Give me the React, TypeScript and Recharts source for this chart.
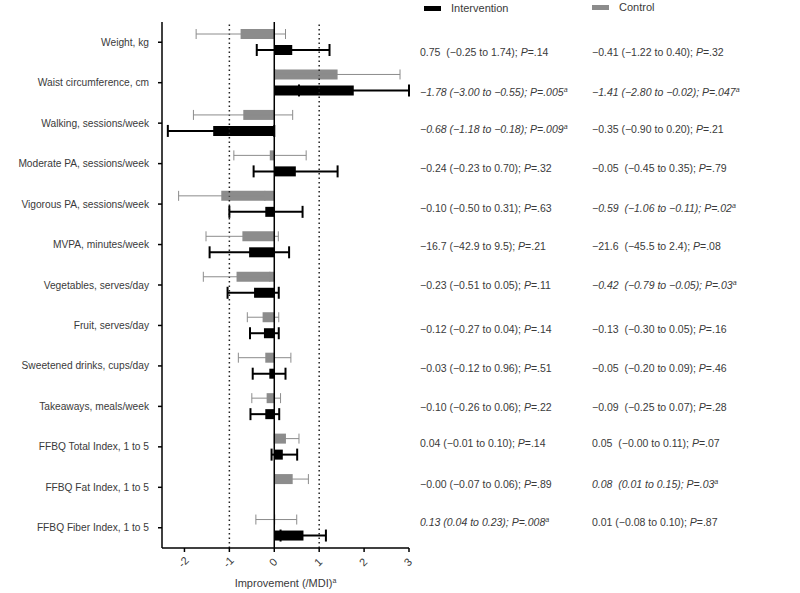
import {
  BarChart,
  Bar,
  XAxis,
  YAxis,
  ErrorBar,
  ReferenceLine,
} from "recharts";

const categories = [
  "Weight, kg",
  "Waist circumference, cm",
  "Walking, sessions/week",
  "Moderate PA, sessions/week",
  "Vigorous PA, sessions/week",
  "MVPA, minutes/week",
  "Vegetables, serves/day",
  "Fruit, serves/day",
  "Sweetened drinks, cups/day",
  "Takeaways, meals/week",
  "FFBQ Total Index, 1 to 5",
  "FFBQ Fat Index, 1 to 5",
  "FFBQ Fiber Index, 1 to 5",
];

// grey bars
const controlValues = [-0.75, 1.41, -0.69, -0.1, -1.18, -0.71, -0.84, -0.26, -0.2, -0.17, 0.26, 0.41, 0.02];
const controlLow = [-1.74, 0.02, -1.8, -0.9, -2.13, -1.52, -1.58, -0.6, -0.8, -0.5, 0.0, 0.02, -0.41];
const controlHigh = [0.25, 2.8, 0.41, 0.71, -0.21, 0.09, -0.1, 0.1, 0.37, 0.14, 0.55, 0.76, 0.5];

// black bars
const interventionValues = [0.4, 1.77, -1.36, 0.48, -0.2, -0.56, -0.45, -0.23, -0.11, -0.2, 0.19, 0.0, 0.65];
const interventionLow = [-0.39, 0.55, -2.37, -0.46, -1.0, -1.44, -1.04, -0.54, -0.48, -0.53, -0.06, -0.35, 0.14];
const interventionHigh = [1.23, 3.0, 0.0, 1.41, 0.63, 0.33, 0.1, 0.1, 0.25, 0.11, 0.51, 0.32, 1.15];

const xTicks = [-2, -1, 0, 1, 2, 3];

const interventionEst = [
  "0.75  (−0.25 to 1.74); ",
  "−1.78 (−3.00 to −0.55); ",
  "−0.68 (−1.18 to −0.18); ",
  "−0.24 (−0.23 to 0.70); ",
  "−0.10 (−0.50 to 0.31); ",
  "−16.7 (−42.9 to 9.5); ",
  "−0.23 (−0.51 to 0.05); ",
  "−0.12 (−0.27 to 0.04); ",
  "−0.03 (−0.12 to 0.96); ",
  "−0.10 (−0.26 to 0.06); ",
  "0.04 (−0.01 to 0.10); ",
  "−0.00 (−0.07 to 0.06); ",
  "0.13 (0.04 to 0.23); ",
];
const interventionP = ["=.14", "=.005", "=.009", "=.32", "=.63", "=.21", "=.11", "=.14", "=.51", "=.22", "=.14", "=.89", "=.008"];
const interventionSig = [false, true, true, false, false, false, false, false, false, false, false, false, true];

const controlEst = [
  "−0.41 (−1.22 to 0.40); ",
  "−1.41 (−2.80 to −0.02); ",
  "−0.35 (−0.90 to 0.20); ",
  "−0.05  (−0.45 to 0.35); ",
  "−0.59  (−1.06 to −0.11); ",
  "−21.6  (−45.5 to 2.4); ",
  "−0.42  (−0.79 to −0.05); ",
  "−0.13  (−0.30 to 0.05); ",
  "−0.05  (−0.20 to 0.09); ",
  "−0.09  (−0.25 to 0.07); ",
  "0.05  (−0.00 to 0.11); ",
  "0.08  (0.01 to 0.15); ",
  "0.01 (−0.08 to 0.10); ",
];
const controlP = ["=.32", "=.047", "=.21", "=.79", "=.02", "=.08", "=.03", "=.16", "=.46", "=.28", "=.07", "=.03", "=.87"];
const controlSig = [false, true, false, false, true, false, true, false, false, false, false, true, false];

const seriesNames = ["Intervention", "Control"];

// small vertical nudges of the stat text relative to each row's tick
const rowShift = [10, 10, 6, 5, 4, 2, 0, 4, 2, 1, -4, -3, -5];

const FONT = "'Liberation Sans', Arial, sans-serif";
const TEXT = "#3a3a3a";
const GREY = "#8c8c8c";

const data = categories.map((name, i) => ({
  name,
  control: controlValues[i],
  controlErr: [controlValues[i] - controlLow[i], controlHigh[i] - controlValues[i]],
  intervention: interventionValues[i],
  interventionErr: [interventionValues[i] - interventionLow[i], interventionHigh[i] - interventionValues[i]],
}));

function StatText({ x, y, est, p, sig }: any) {
  return (
    <text x={x} y={y} dy="0.35em" fontSize={10.5} fill={TEXT} fontFamily={FONT} xmlSpace="preserve" style={{ whiteSpace: "pre" }} fontStyle={sig ? "italic" : "normal"}>
      {est}
      <tspan fontStyle="italic">P</tspan>
      {p}
      {sig && (
        <tspan fontSize={7} dy="-4">a</tspan>
      )}
    </text>
  );
}

function RowTick(props: any) {
  const { x, y, payload } = props;
  const i = payload.index;
  const ty = y + rowShift[i];
  return (
    <g>
      <text x={x} y={y} dy="0.35em" textAnchor="end" fontSize={10.2} fill={TEXT} fontFamily={FONT}>
        {payload.value}
      </text>
      <StatText x={420} y={ty} est={interventionEst[i]} p={interventionP[i]} sig={interventionSig[i]} />
      <StatText x={592} y={ty} est={controlEst[i]} p={controlP[i]} sig={controlSig[i]} />
    </g>
  );
}

function XTick(props: any) {
  const { x, y, payload } = props;
  return (
    <g transform={`translate(${x - 1},${y + 8}) rotate(-45)`}>
      <text textAnchor="middle" dy="0.35em" fontSize={11} fill={TEXT} fontFamily={FONT}>
        {payload.value}
      </text>
    </g>
  );
}

function XLabel(props: any) {
  const { viewBox } = props;
  const cx = viewBox.x + viewBox.width / 2;
  return (
    <text x={cx} y={viewBox.y + 39} textAnchor="middle" fontSize={11} fill={TEXT} fontFamily={FONT}>
      Improvement (/MDI)
      <tspan fontSize={7} dy="-4">a</tspan>
    </text>
  );
}

export default function App() {
  return (
    <div style={{ position: "absolute", left: 0, top: 0, width: 800, height: 593, background: "#fff" }}>
      <div style={{ position: "absolute", left: 424, top: 2, display: "flex", alignItems: "center", fontFamily: FONT, fontSize: 11, color: TEXT }}>
        <span style={{ display: "inline-block", width: 17, height: 5, background: "#000", marginRight: 10 }} />
        {seriesNames[0]}
      </div>
      <div style={{ position: "absolute", left: 592, top: 1, display: "flex", alignItems: "center", fontFamily: FONT, fontSize: 11, color: TEXT }}>
        <span style={{ display: "inline-block", width: 17, height: 5, background: GREY, marginRight: 10 }} />
        {seriesNames[1]}
      </div>
      <BarChart
        width={800}
        height={593}
        data={data}
        layout="vertical"
        margin={{ top: 22, right: 391, left: 0, bottom: 0 }}
        barSize={10}
        barGap={6}
      >
        <XAxis
          type="number"
          domain={[-2.5, 3]}
          ticks={xTicks}
          allowDataOverflow
          height={45}
          tickSize={4}
          tickMargin={2}
          stroke="#000"
          strokeWidth={1.5}
          tick={<XTick />}
          label={<XLabel />}
        />
        <YAxis
          type="category"
          dataKey="name"
          width={162}
          tickSize={4}
          tickMargin={9}
          stroke="#000"
          strokeWidth={1.5}
          interval={0}
          tick={<RowTick />}
        />
        <ReferenceLine x={-1} stroke="#222" strokeWidth={1.5} strokeDasharray="1.5 3" />
        <ReferenceLine x={1} stroke="#222" strokeWidth={1.5} strokeDasharray="1.5 3" />
        <Bar dataKey="control" fill={GREY} isAnimationActive={false}>
          <ErrorBar dataKey="controlErr" direction="x" stroke={GREY} strokeWidth={1} width={5} isAnimationActive={false} />
        </Bar>
        <Bar dataKey="intervention" fill="#000" isAnimationActive={false}>
          <ErrorBar dataKey="interventionErr" direction="x" stroke="#000" strokeWidth={2} width={6} isAnimationActive={false} />
        </Bar>
        <ReferenceLine x={0} stroke="#000" strokeWidth={1.5} />
      </BarChart>
    </div>
  );
}
